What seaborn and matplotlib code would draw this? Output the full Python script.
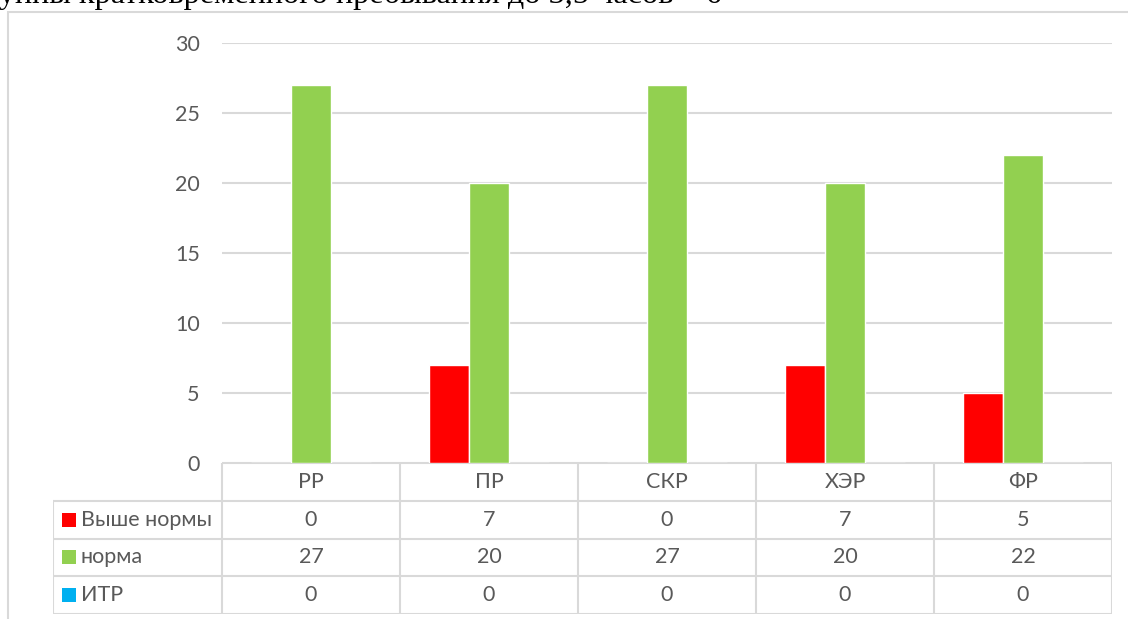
import pandas as pd
import seaborn as sns
import matplotlib.pyplot as plt
from matplotlib.patches import Rectangle

# data
categories = ['РР', 'ПР', 'СКР', 'ХЭР', 'ФР']
series_names = ['Выше нормы', 'норма', 'ИТР']
above_norm = [0, 7, 0, 7, 5]
norm = [27, 20, 27, 20, 22]
itr = [0, 0, 0, 0, 0]
colors = ['#FF0000', '#92D050', '#00B0F0']
y_ticks = [0, 5, 10, 15, 20, 25, 30]
caption = 'группы кратковременного пребывания до 3,5 часов – 6'

TEXT = '#595959'
GRID = '#D9D9D9'
FS = 15.5
W, H = 1128, 619

df = pd.DataFrame({
    'cat': categories * 3,
    'series': [s for s in series_names for _ in categories],
    'val': above_norm + norm + itr,
})

sns.set_theme(style='white')
plt.rcParams['font.family'] = ['Lato', 'DejaVu Sans']

fig = plt.figure(figsize=(W / 100, H / 100), dpi=100)

# outer chart frame
fig.patches.append(Rectangle((8 / W, -0.1), 1.2, (H - 12) / H + 0.1,
                             transform=fig.transFigure, fill=False,
                             edgecolor=GRID, linewidth=1.5))
# document caption above the chart (cut off at the top, as in the source)
fig.text(-30 / W, 1 - 3 / H, caption, family='Liberation Serif',
         fontsize=23.2, color='black', va='baseline', ha='left')

ax = fig.add_axes([222 / W, 1 - 463 / H, (1112 - 222) / W, (463 - 43) / H])
sns.barplot(data=df, x='cat', y='val', hue='series', palette=colors,
            width=0.674, ax=ax, legend=False, saturation=1)
ax.set_ylim(0, 30)
ax.set_xlim(-0.5, len(categories) - 0.5)
ax.set_yticks(y_ticks)
ax.yaxis.grid(True, color=GRID, linewidth=1.5)
ax.set_axisbelow(True)
ax.tick_params(axis='y', length=0, pad=16, labelsize=FS, labelcolor=TEXT)
ax.set_xticks([])
ax.set_xlabel('')
ax.set_ylabel('')
for sp in ax.spines.values():
    sp.set_visible(False)

# data table below the chart
px = 1 / 178  # one pixel in category units
left = -0.5 - 169 * px
tab = fig.add_axes([53 / W, 1 - 614 / H, (1112 - 53) / W, (614 - 463) / H])
tab.set_xlim(left, len(categories) - 0.5)
tab.set_ylim(4, 0)
tab.axis('off')

lw = 1.5
tab.plot([-0.5, len(categories) - 0.5], [0, 0], color=GRID, lw=lw)
for r in range(1, 5):
    tab.plot([left, len(categories) - 0.5], [r, r], color=GRID, lw=lw)
tab.plot([left, left], [1, 4], color=GRID, lw=lw)
for c in range(len(categories) + 1):
    tab.plot([c - 0.5, c - 0.5], [0, 4], color=GRID, lw=lw)

for i, cat in enumerate(categories):
    tab.text(i, 0.5, cat, ha='center', va='center', fontsize=FS, color=TEXT)

rows = [above_norm, norm, itr]
for r, (name, vals, col) in enumerate(zip(series_names, rows, colors), start=1):
    tab.add_patch(Rectangle((left + 9 * px, r + 0.5 - 7 / 37.75), 14 * px, 14 / 37.75,
                            facecolor=col, edgecolor='none'))
    tab.text(left + 28 * px, r + 0.5, name, ha='left', va='center',
             fontsize=FS, color=TEXT)
    for i, v in enumerate(vals):
        tab.text(i, r + 0.5, str(v), ha='center', va='center',
                 fontsize=FS, color=TEXT)

fig.savefig('out.png', dpi=100, facecolor='white')
